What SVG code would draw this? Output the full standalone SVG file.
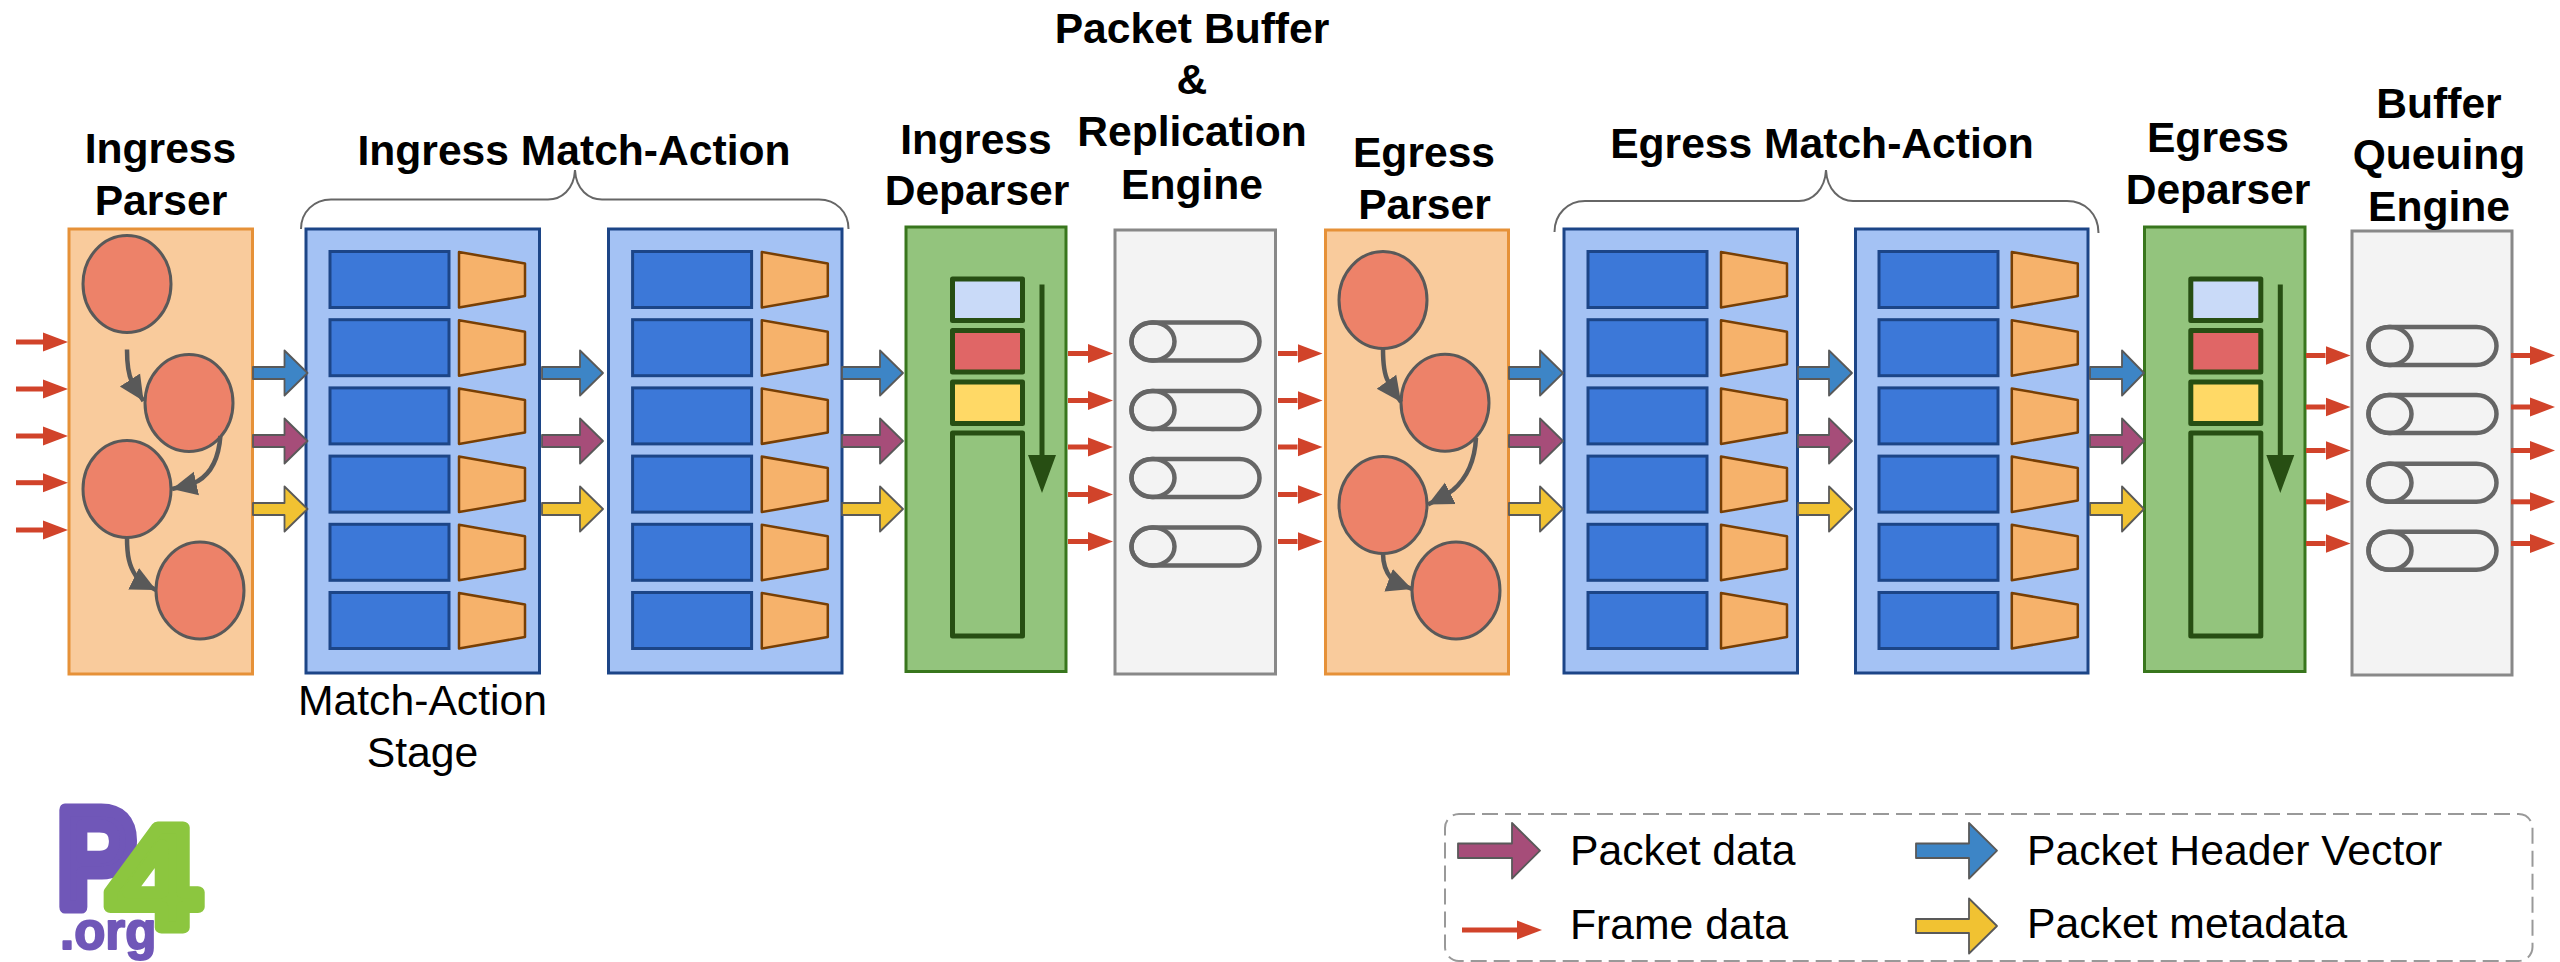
<svg xmlns="http://www.w3.org/2000/svg" width="2560" height="962" viewBox="0 0 2560 962">
<style>
text{font-family:"Liberation Sans",Arial,sans-serif;fill:#000}
.t{font-size:42.6px;font-weight:700;text-anchor:middle}
.l{font-size:42.7px}
.parser{fill:#f9cb9c;stroke:#e69138;stroke-width:3}
.ma{fill:#a4c2f4;stroke:#1c4587;stroke-width:3}
.dep{fill:#93c47d;stroke:#38761d;stroke-width:3}
.buf{fill:#f3f3f3;stroke:#888;stroke-width:3}
.st{fill:#ed8269;stroke:#595959;stroke-width:3}
.edge{fill:none;stroke:#595959;stroke-width:4.5;marker-end:url(#gh)}
.tbl{fill:#3c78d8;stroke:#1c4587;stroke-width:3}
.act{fill:#f6b26b;stroke:#783f04;stroke-width:2.5;stroke-linejoin:round}
.box{stroke:#274e13;stroke-width:5;stroke-linejoin:round}
.cyl{fill:none;stroke:#666;stroke-width:4.5}
.frame{stroke:#d1432a;stroke-width:5;marker-end:url(#rh)}
.ba{stroke:#595959;stroke-width:1.8;stroke-linejoin:round}
.phv{fill:#3d85c6}.pkt{fill:#a64d79}.meta{fill:#f1c232}
.brace{fill:none;stroke:#666;stroke-width:2}
</style>
<defs>
<marker id="rh" markerUnits="userSpaceOnUse" markerWidth="26" markerHeight="22" refX="0" refY="11" orient="auto"><polygon points="0,1.5 25,11 0,20.5" fill="#d1432a"/></marker>
<marker id="gh" markerUnits="userSpaceOnUse" markerWidth="27" markerHeight="28" refX="25" refY="14" orient="auto"><polygon points="0,2 25,14 0,26" fill="#595959"/></marker>
<g id="tables">
<rect class="tbl" x="0" y="0" width="119" height="56"/>
<rect class="tbl" x="0" y="68.2" width="119" height="56"/>
<rect class="tbl" x="0" y="136.4" width="119" height="56"/>
<rect class="tbl" x="0" y="204.6" width="119" height="56"/>
<rect class="tbl" x="0" y="272.8" width="119" height="56"/>
<rect class="tbl" x="0" y="341" width="119" height="56"/>
</g>
<g id="actions">
<polygon class="act" points="0,0.5 66,12 66,44.500 0,56"/>
<polygon class="act" points="0,68.700 66,80.200 66,112.700 0,124.200"/>
<polygon class="act" points="0,136.900 66,148.400 66,180.900 0,192.400"/>
<polygon class="act" points="0,205.100 66,216.600 66,249.100 0,260.600"/>
<polygon class="act" points="0,273.300 66,284.800 66,317.300 0,328.800"/>
<polygon class="act" points="0,341.500 66,353 66,385.500 0,397"/>
</g>
<g id="cylinder"><rect class="cyl" x="0" y="-19" width="128" height="38" rx="20" ry="19"/><ellipse class="cyl" cx="21.500" cy="0" rx="21.500" ry="19"/></g>
<g id="stack">
<rect class="box" x="0" y="0" width="70" height="41.500" fill="#c9daf8"/>
<rect class="box" x="0" y="51.500" width="70" height="41.500" fill="#e06666"/>
<rect class="box" x="0" y="103" width="70" height="41.500" fill="#ffd966"/>
<rect class="box" x="0" y="154" width="70" height="203" fill="#93c47d"/>
<polygon fill="#274e13" points="87,5.500 92,5.500 92,176 103.500,176 89.500,214 75.500,176 87,176"/>
</g>
</defs>

<g id="ingress-parser">
<rect class="parser" x="69" y="229" width="183.500" height="445"/>
<ellipse class="st" cx="127" cy="284" rx="44" ry="48.500"/>
<ellipse class="st" cx="189" cy="403" rx="44" ry="48.500"/>
<ellipse class="st" cx="127" cy="489" rx="44" ry="48.500"/>
<ellipse class="st" cx="200" cy="590.500" rx="44" ry="48.500"/>
<text class="t" x="160.500" y="163">Ingress</text><text class="t" x="161" y="215">Parser</text>
</g>
<g id="ingress-match-action">
<path class="brace" d="M301,229C301,212 314,199.500 331,199.500L548,199.500C561,199.500 574,190 575,170C576,190 589,199.500 602,199.500L819,199.500C836,199.500 848.500,212 848.500,229"/>
<text class="t" x="574" y="165">Ingress Match-Action</text>
<rect class="ma" x="306" y="229" width="233.500" height="444"/><use href="#tables" x="330" y="251.500"/><use href="#actions" x="459" y="251.500"/>
<rect class="ma" x="608.500" y="229" width="233.500" height="444"/><use href="#tables" x="632.600" y="251.500"/><use href="#actions" x="761.800" y="251.500"/>
<text class="l" x="422.500" y="715" style="text-anchor:middle">Match-Action</text>
<text class="l" x="422.500" y="766.500" style="text-anchor:middle">Stage</text>
</g>
<g id="ingress-deparser">
<rect class="dep" x="906" y="227" width="160" height="444.500"/><use href="#stack" x="952.500" y="279"/>
<text class="t" x="976" y="154">Ingress</text><text class="t" x="977" y="205">Deparser</text>
</g>
<g id="packet-buffer">
<rect class="buf" x="1115" y="230" width="160.500" height="444"/>
<use href="#cylinder" x="1131.500" y="341.500"/><use href="#cylinder" x="1131.500" y="410"/><use href="#cylinder" x="1131.500" y="478"/><use href="#cylinder" x="1131.500" y="546.500"/>
<text class="t" x="1192" y="42.500">Packet Buffer</text><text class="t" x="1192" y="94">&amp;</text><text class="t" x="1192" y="146">Replication</text><text class="t" x="1192" y="198.500">Engine</text>
</g>
<g id="egress-parser">
<rect class="parser" x="1325.500" y="230" width="183" height="444"/>
<ellipse class="st" cx="1383" cy="300" rx="44" ry="48.500"/>
<ellipse class="st" cx="1445" cy="402.700" rx="44" ry="48.500"/>
<ellipse class="st" cx="1383" cy="505" rx="44" ry="48.500"/>
<ellipse class="st" cx="1456" cy="590.500" rx="44" ry="48.500"/>
<text class="t" x="1424" y="166.500">Egress</text><text class="t" x="1424.500" y="218.500">Parser</text>
</g>
<g id="egress-match-action">
<path class="brace" d="M1554.500,232C1554.500,214 1568,201 1585,201L1799,201C1812,201 1825,190 1826,170C1827,190 1840,201 1853,201L2067,201C2085,201 2098.500,214 2098.500,233"/>
<text class="t" x="1822" y="158">Egress Match-Action</text>
<rect class="ma" x="1564" y="229" width="233.500" height="444"/><use href="#tables" x="1588" y="251.500"/><use href="#actions" x="1721" y="251.500"/>
<rect class="ma" x="1855.500" y="229" width="232.500" height="444"/><use href="#tables" x="1879" y="251.500"/><use href="#actions" x="2011.800" y="251.500"/>
</g>
<g id="egress-deparser">
<rect class="dep" x="2144.500" y="227" width="160.500" height="444.500"/><use href="#stack" x="2190.800" y="279"/>
<text class="t" x="2218" y="152">Egress</text><text class="t" x="2218" y="203.500">Deparser</text>
</g>
<g id="buffer-queuing-engine">
<rect class="buf" x="2352" y="231" width="160" height="444"/>
<use href="#cylinder" x="2368.500" y="346"/><use href="#cylinder" x="2368.500" y="414"/><use href="#cylinder" x="2368.500" y="482.700"/><use href="#cylinder" x="2368.500" y="550.800"/>
<text class="t" x="2439" y="117.500">Buffer</text><text class="t" x="2439" y="169">Queuing</text><text class="t" x="2439" y="221">Engine</text>
</g>

<g id="connectors">
<path class="edge" d="M127,349.500C127,362 128,374 132,382C135,388 139,394 143.500,401"/>
<path class="edge" d="M220.400,436C219,455 213,472 198,481C190,485 181,487 172,489"/>
<path class="edge" d="M127,538C127,555 129,566 136,576C141,582 148,586 156,590"/>
<path class="edge" d="M1383,349C1383,362 1384,374 1388,381C1392,388 1396,395 1401,402"/>
<path class="edge" d="M1476,438C1475,458 1468,477 1453,490C1445,496 1437,500 1428,504.500"/>
<path class="edge" d="M1383,553.500C1383,563 1386,572 1391,578C1397,583 1404,586 1412,589"/>

<line class="frame" x1="16" y1="342" x2="43" y2="342"/><line class="frame" x1="16" y1="389" x2="43" y2="389"/><line class="frame" x1="16" y1="436" x2="43" y2="436"/><line class="frame" x1="16" y1="482.700" x2="43" y2="482.700"/><line class="frame" x1="16" y1="530" x2="43" y2="530"/>
<line class="frame" x1="1068" y1="353.500" x2="1088" y2="353.500"/><line class="frame" x1="1068" y1="400.500" x2="1088" y2="400.500"/><line class="frame" x1="1068" y1="447" x2="1088" y2="447"/><line class="frame" x1="1068" y1="494.500" x2="1088" y2="494.500"/><line class="frame" x1="1068" y1="541.500" x2="1088" y2="541.500"/>
<line class="frame" x1="1278" y1="353.500" x2="1297.500" y2="353.500"/><line class="frame" x1="1278" y1="400.500" x2="1297.500" y2="400.500"/><line class="frame" x1="1278" y1="447" x2="1297.500" y2="447"/><line class="frame" x1="1278" y1="494.500" x2="1297.500" y2="494.500"/><line class="frame" x1="1278" y1="541.500" x2="1297.500" y2="541.500"/>
<line class="frame" x1="2306" y1="355.500" x2="2325.500" y2="355.500"/><line class="frame" x1="2306" y1="407" x2="2325.500" y2="407"/><line class="frame" x1="2306" y1="450.500" x2="2325.500" y2="450.500"/><line class="frame" x1="2306" y1="501.800" x2="2325.500" y2="501.800"/><line class="frame" x1="2306" y1="543.500" x2="2325.500" y2="543.500"/>
<line class="frame" x1="2511" y1="355.500" x2="2530" y2="355.500"/><line class="frame" x1="2511" y1="407" x2="2530" y2="407"/><line class="frame" x1="2511" y1="450.500" x2="2530" y2="450.500"/><line class="frame" x1="2511" y1="501.800" x2="2530" y2="501.800"/><line class="frame" x1="2511" y1="543.500" x2="2530" y2="543.500"/>

<polygon class="ba phv" points="253,367 284.500,367 284.500,350.500 307.500,373 284.500,395.500 284.500,379 253,379"/>
<polygon class="ba pkt" points="253,435 284.500,435 284.500,418.500 307.500,441 284.500,463.500 284.500,447 253,447"/>
<polygon class="ba meta" points="253,503 284.500,503 284.500,486.500 307.500,509 284.500,531.500 284.500,515 253,515"/>
<polygon class="ba phv" points="542,367 580,367 580,350.500 603,373 580,395.500 580,379 542,379"/>
<polygon class="ba pkt" points="542,435 580,435 580,418.500 603,441 580,463.500 580,447 542,447"/>
<polygon class="ba meta" points="542,503 580,503 580,486.500 603,509 580,531.500 580,515 542,515"/>
<polygon class="ba phv" points="842,367 880,367 880,350.500 903,373 880,395.500 880,379 842,379"/>
<polygon class="ba pkt" points="842,435 880,435 880,418.500 903,441 880,463.500 880,447 842,447"/>
<polygon class="ba meta" points="842,503 880,503 880,486.500 903,509 880,531.500 880,515 842,515"/>
<polygon class="ba phv" points="1509,367 1540,367 1540,350.500 1563,373 1540,395.500 1540,379 1509,379"/>
<polygon class="ba pkt" points="1509,435 1540,435 1540,418.500 1563,441 1540,463.500 1540,447 1509,447"/>
<polygon class="ba meta" points="1509,503 1540,503 1540,486.500 1563,509 1540,531.500 1540,515 1509,515"/>
<polygon class="ba phv" points="1798,367 1829,367 1829,350.500 1852,373 1829,395.500 1829,379 1798,379"/>
<polygon class="ba pkt" points="1798,435 1829,435 1829,418.500 1852,441 1829,463.500 1829,447 1798,447"/>
<polygon class="ba meta" points="1798,503 1829,503 1829,486.500 1852,509 1829,531.500 1829,515 1798,515"/>
<polygon class="ba phv" points="2090,367 2122,367 2122,350.500 2144,373 2122,395.500 2122,379 2090,379"/>
<polygon class="ba pkt" points="2090,435 2122,435 2122,418.500 2144,441 2122,463.500 2122,447 2090,447"/>
<polygon class="ba meta" points="2090,503 2122,503 2122,486.500 2144,509 2122,531.500 2122,515 2090,515"/>
</g>

<g id="legend">
<rect x="1445" y="814" width="1087.500" height="147" rx="14" fill="none" stroke="#999" stroke-width="2" stroke-dasharray="16 7"/>
<polygon class="ba pkt" points="1458,843.500 1512,843.500 1512,823 1540,850.700 1512,878.500 1512,858 1458,858"/>
<polygon class="ba phv" points="1916,843.500 1969,843.500 1969,823 1997,850.700 1969,878.500 1969,858 1916,858"/>
<polygon class="ba meta" points="1916,919 1969,919 1969,898.500 1997,926 1969,953.500 1969,933 1916,933"/>
<line class="frame" x1="1462" y1="930" x2="1517" y2="930"/>
<text class="l" x="1570" y="865">Packet data</text>
<text class="l" x="1570" y="939">Frame data</text>
<text class="l" x="2027" y="865">Packet Header Vector</text>
<text class="l" x="2027" y="937.500">Packet metadata</text>
</g>

<g id="logo">
<text transform="translate(57,907) scale(0.92,1.1)" style="font-size:128px;font-weight:700;fill:#7057b8;stroke:#7057b8;stroke-width:12;stroke-linejoin:round">P</text>
<text transform="translate(108,926.500) scale(1.36,1.21)" style="font-size:120px;font-weight:700;fill:#8cc63f;stroke:#8cc63f;stroke-width:10;stroke-linejoin:round">4</text>
<text x="60" y="949" style="font-size:51px;font-weight:700;fill:#7057b8;stroke:#7057b8;stroke-width:2;stroke-linejoin:round">.org</text>
</g>
</svg>
